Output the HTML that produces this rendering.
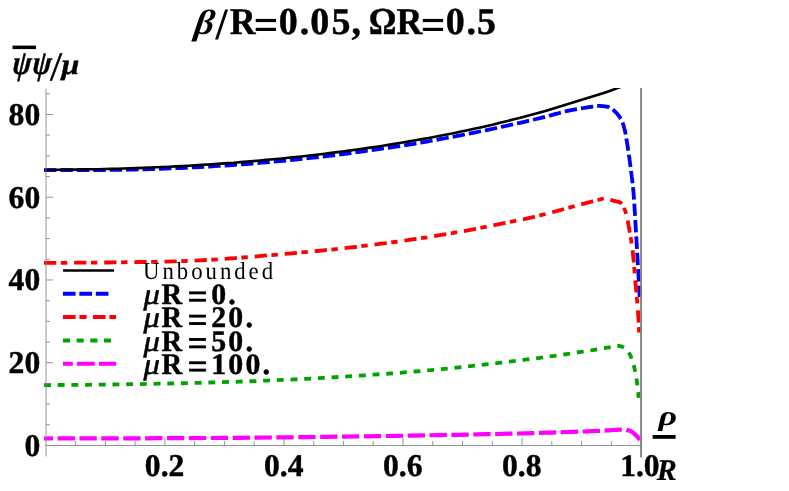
<!DOCTYPE html>
<html><head><meta charset="utf-8">
<style>
html,body{margin:0;padding:0;background:#fff;}
svg{display:block;will-change:transform;}
text{font-family:"Liberation Serif",serif;font-weight:bold;font-size:30px;fill:#000;text-rendering:geometricPrecision;stroke:#000;stroke-width:0.45px;stroke-linejoin:round;}
.it{font-style:italic;}
.crv{fill:none;stroke-width:4;stroke-linecap:butt;stroke-linejoin:round;}
</style></head><body>
<svg width="789" height="491" viewBox="0 0 789 491">
<rect width="789" height="491" fill="#fff"/>
<defs><clipPath id="cp"><rect x="40" y="88" width="603" height="370"/></clipPath></defs>
<g clip-path="url(#cp)">
<path class="crv" style="stroke-width:3.8" d="M44.0 170.2 L50.4 170.2 L56.8 170.2 L63.2 170.2 L69.7 170.2 L76.1 170.2 L82.6 170.2 L89.0 170.1 L95.3 170.1 L101.6 170.1 L107.9 170.0 L114.0 169.9 L120.0 169.8 L125.2 169.8 L130.4 169.6 L135.5 169.5 L140.5 169.4 L145.5 169.3 L150.4 169.1 L155.4 169.0 L160.3 168.8 L165.2 168.6 L170.1 168.4 L175.0 168.2 L180.0 168.0 L185.0 167.8 L189.9 167.5 L194.8 167.3 L199.7 167.1 L204.6 166.8 L209.5 166.5 L214.4 166.2 L219.4 165.9 L224.4 165.6 L229.5 165.3 L234.7 164.9 L240.0 164.5 L246.3 164.0 L252.7 163.5 L259.2 162.9 L265.8 162.4 L272.5 161.8 L279.3 161.1 L286.1 160.5 L292.9 159.8 L299.7 159.1 L306.5 158.4 L313.3 157.7 L320.0 156.9 L326.8 156.1 L333.7 155.3 L340.7 154.4 L347.7 153.5 L354.7 152.5 L361.7 151.6 L368.6 150.6 L375.4 149.7 L381.9 148.7 L388.3 147.8 L394.3 146.9 L400.0 146.1 L403.8 145.5 L407.4 144.9 L410.9 144.3 L414.2 143.8 L417.4 143.2 L420.6 142.7 L423.7 142.1 L426.9 141.6 L430.0 141.0 L433.2 140.4 L436.6 139.8 L440.0 139.2 L444.0 138.5 L448.0 137.7 L452.1 136.9 L456.3 136.2 L460.5 135.3 L464.7 134.5 L468.9 133.7 L473.1 132.9 L477.4 132.0 L481.6 131.1 L485.8 130.3 L490.0 129.4 L494.2 128.5 L498.5 127.6 L502.8 126.6 L507.2 125.7 L511.5 124.7 L515.8 123.7 L520.1 122.8 L524.3 121.8 L528.4 120.8 L532.4 119.9 L536.3 119.0 L540.0 118.1 L542.8 117.4 L545.5 116.7 L548.2 116.0 L550.8 115.3 L553.3 114.6 L555.8 113.9 L558.3 113.3 L560.7 112.6 L563.1 112.0 L565.4 111.4 L567.7 110.9 L570.0 110.4 L571.8 110.0 L573.7 109.7 L575.5 109.3 L577.3 109.0 L579.1 108.7 L580.9 108.4 L582.6 108.1 L584.2 107.9 L585.8 107.6 L587.3 107.4 L588.7 107.2 L590.0 107.0 L590.7 106.9 L591.4 106.8 L592.0 106.7 L592.6 106.6 L593.2 106.5 L593.8 106.4 L594.3 106.3 L594.8 106.2 L595.4 106.2 L595.9 106.1 L596.4 106.0 L597.0 106.0 L597.5 106.0 L598.0 105.9 L598.5 105.9 L599.0 105.9 L599.6 105.9 L600.1 105.9 L600.6 105.9 L601.0 106.0 L601.5 106.0 L602.0 106.0 L602.5 106.1 L603.0 106.1 L603.5 106.1 L603.9 106.2 L604.4 106.3 L604.8 106.3 L605.3 106.4 L605.7 106.5 L606.2 106.5 L606.6 106.6 L607.0 106.7 L607.5 106.8 L607.9 107.0 L608.3 107.1 L608.7 107.2 L609.1 107.4 L609.4 107.6 L609.8 107.7 L610.2 107.9 L610.5 108.1 L610.9 108.3 L611.2 108.5 L611.6 108.7 L611.9 108.9 L612.3 109.2 L612.6 109.4 L613.0 109.7 L613.3 109.9 L613.7 110.2 L614.0 110.5 L614.3 110.9 L614.7 111.2 L615.0 111.5 L615.3 111.8 L615.7 112.2 L616.0 112.5 L616.3 112.9 L616.6 113.2 L616.9 113.5 L617.2 113.9 L617.5 114.2 L617.8 114.6 L618.1 114.9 L618.4 115.3 L618.7 115.7 L618.9 116.0 L619.2 116.4 L619.5 116.8 L619.7 117.2 L620.0 117.6 L620.3 118.0 L620.5 118.5 L620.8 118.9 L621.0 119.4 L621.3 119.8 L621.5 120.3 L621.7 120.8 L622.0 121.3 L622.2 121.7 L622.4 122.3 L622.6 122.8 L622.8 123.3 L623.0 123.9 L623.3 124.6 L623.5 125.3 L623.7 126.0 L623.9 126.7 L624.1 127.5 L624.3 128.2 L624.5 129.0 L624.7 129.7 L624.9 130.5 L625.0 131.2 L625.2 132.0 L625.4 132.8 L625.6 133.7 L625.7 134.6 L625.9 135.4 L626.0 136.3 L626.2 137.2 L626.3 138.1 L626.4 139.0 L626.6 139.9 L626.7 140.8 L626.9 141.6 L627.0 142.5 L627.1 143.3 L627.3 144.1 L627.4 144.9 L627.5 145.7 L627.6 146.5 L627.8 147.2 L627.9 148.0 L628.0 148.8 L628.1 149.6 L628.3 150.4 L628.4 151.2 L628.5 152.0 L628.6 152.9 L628.8 153.8 L628.9 154.7 L629.0 155.6 L629.1 156.5 L629.3 157.4 L629.4 158.4 L629.5 159.3 L629.6 160.2 L629.8 161.1 L629.9 162.1 L630.0 163.0 L630.1 163.9 L630.3 164.8 L630.4 165.8 L630.5 166.7 L630.6 167.6 L630.7 168.5 L630.9 169.4 L631.0 170.3 L631.1 171.3 L631.2 172.3 L631.4 173.3 L631.5 174.3 L631.7 175.7 L631.8 177.0 L632.0 178.4 L632.2 179.8 L632.3 181.3 L632.5 182.8 L632.7 184.3 L632.9 185.9 L633.0 187.5 L633.2 189.1 L633.3 190.8 L633.5 192.6 L633.7 195.2 L633.9 198.0 L634.1 200.8 L634.3 203.8 L634.5 206.9 L634.7 210.1 L634.9 213.3 L635.1 216.5 L635.3 219.7 L635.4 222.8 L635.6 225.9 L635.8 228.9 L636.0 231.7 L636.1 234.5 L636.3 237.3 L636.5 240.0 L636.6 242.8 L636.8 245.5 L636.9 248.2 L637.1 251.0 L637.2 253.7 L637.4 256.4 L637.5 259.2 L637.7 262.0 L637.9 264.9 L638.0 267.8 L638.2 270.7 L638.4 273.6 L638.5 276.5 L638.7 279.4 L638.9 282.4 L639.0 285.3 L639.2 288.2 L639.4 291.2 L639.5 294.1 L639.7 297.0" stroke="#0000ff" stroke-dasharray="12.4 4.03"/>
<path class="crv" style="stroke-width:3.8" d="M44.0 262.9 L50.3 262.9 L56.6 262.8 L63.0 262.8 L69.3 262.7 L75.6 262.7 L81.9 262.7 L88.2 262.6 L94.5 262.6 L100.9 262.5 L107.2 262.5 L113.6 262.4 L120.0 262.3 L126.6 262.2 L133.2 262.1 L139.8 262.0 L146.4 261.9 L153.1 261.8 L159.7 261.7 L166.4 261.6 L173.1 261.4 L179.8 261.2 L186.5 261.0 L193.2 260.7 L200.0 260.4 L207.0 260.0 L214.1 259.6 L221.2 259.1 L228.3 258.6 L235.5 258.1 L242.6 257.5 L249.8 257.0 L256.9 256.4 L264.0 255.7 L271.1 255.1 L278.1 254.5 L285.0 253.9 L291.5 253.3 L298.0 252.7 L304.4 252.2 L310.7 251.6 L317.1 251.0 L323.4 250.3 L329.7 249.7 L336.0 249.1 L342.3 248.4 L348.7 247.7 L355.0 247.0 L361.4 246.2 L367.9 245.4 L374.5 244.6 L381.1 243.7 L387.7 242.9 L394.3 242.0 L400.9 241.1 L407.5 240.2 L414.1 239.2 L420.6 238.2 L427.1 237.3 L433.6 236.2 L440.0 235.2 L446.2 234.2 L452.5 233.1 L458.9 231.9 L465.3 230.8 L471.6 229.6 L477.9 228.4 L484.1 227.2 L490.1 226.0 L495.9 224.8 L501.4 223.7 L506.6 222.7 L511.4 221.7 L514.2 221.1 L516.9 220.6 L519.4 220.0 L521.8 219.5 L524.1 219.1 L526.3 218.6 L528.5 218.1 L530.7 217.6 L533.0 217.1 L535.2 216.5 L537.6 216.0 L540.0 215.4 L542.8 214.7 L545.8 213.9 L548.9 213.1 L552.0 212.3 L555.1 211.5 L558.2 210.6 L561.3 209.8 L564.3 208.9 L567.2 208.1 L570.0 207.4 L572.6 206.7 L575.0 206.0 L576.5 205.6 L577.9 205.2 L579.2 204.9 L580.5 204.5 L581.7 204.2 L582.9 203.9 L584.1 203.6 L585.2 203.3 L586.4 202.9 L587.6 202.6 L588.8 202.3 L590.0 202.0 L591.2 201.7 L592.4 201.4 L593.7 201.0 L594.9 200.7 L596.1 200.4 L597.3 200.1 L598.5 199.8 L599.7 199.5 L601.0 199.1 L602.2 198.8 L603.4 198.5 L604.6 198.2 L605.3 198.4 L606.0 198.6 L606.7 198.8 L607.4 199.0 L608.1 199.2 L608.8 199.4 L609.5 199.6 L610.2 199.8 L610.9 200.0 L611.6 200.2 L612.3 200.4 L613.0 200.6 L613.7 200.8 L614.4 200.9 L615.1 201.1 L615.7 201.2 L616.4 201.3 L617.1 201.5 L617.8 201.6 L618.5 201.8 L619.1 202.0 L619.7 202.3 L620.3 202.6 L620.8 203.0 L621.3 203.5 L621.8 204.1 L622.3 204.7 L622.7 205.3 L623.1 206.0 L623.5 206.8 L623.9 207.6 L624.2 208.4 L624.5 209.2 L624.9 210.1 L625.2 210.9 L625.5 211.8 L625.9 213.0 L626.3 214.3 L626.6 215.6 L627.0 216.9 L627.3 218.3 L627.6 219.8 L627.8 221.2 L628.1 222.7 L628.4 224.3 L628.6 225.8 L628.9 227.3 L629.2 228.9 L629.5 230.8 L629.9 232.7 L630.2 234.7 L630.5 236.7 L630.9 238.7 L631.2 240.8 L631.5 242.9 L631.8 245.0 L632.1 247.1 L632.4 249.2 L632.7 251.2 L632.9 253.3 L633.1 255.3 L633.3 257.4 L633.5 259.5 L633.7 261.6 L633.9 263.6 L634.1 265.7 L634.2 267.8 L634.4 269.8 L634.5 271.9 L634.7 273.9 L634.8 275.9 L635.0 277.8 L635.2 279.5 L635.3 281.1 L635.5 282.8 L635.6 284.4 L635.8 286.0 L635.9 287.6 L636.1 289.2 L636.2 290.7 L636.4 292.3 L636.5 293.9 L636.7 295.4 L636.8 297.0 L636.9 298.5 L637.1 300.0 L637.2 301.5 L637.3 303.1 L637.4 304.6 L637.5 306.1 L637.7 307.5 L637.8 309.0 L637.9 310.5 L638.0 312.0 L638.1 313.5 L638.2 315.0 L638.3 316.5 L638.4 317.9 L638.5 319.4 L638.6 320.9 L638.6 322.3 L638.7 323.8 L638.8 325.2 L638.9 326.7 L639.0 328.1 L639.0 329.6 L639.1 331.0 L639.2 332.5" stroke="#ff0000" stroke-dasharray="12.3 4.5 6.45 6.87"/>
<path class="crv" style="stroke-width:3.8" d="M44.0 385.1 L50.3 385.0 L56.5 385.0 L62.6 385.0 L68.7 384.9 L74.8 384.9 L80.9 384.8 L87.1 384.8 L93.4 384.7 L99.8 384.7 L106.3 384.6 L113.1 384.5 L120.0 384.4 L129.1 384.2 L138.5 384.1 L148.3 383.9 L158.4 383.7 L168.6 383.5 L179.0 383.3 L189.4 383.0 L199.8 382.8 L210.1 382.5 L220.3 382.2 L230.3 381.9 L240.0 381.6 L248.7 381.3 L257.2 381.0 L265.6 380.6 L274.0 380.3 L282.3 379.9 L290.6 379.6 L298.8 379.2 L307.0 378.8 L315.2 378.3 L323.4 377.9 L331.7 377.4 L340.0 376.9 L348.3 376.4 L356.7 375.8 L365.0 375.3 L373.3 374.7 L381.7 374.1 L390.0 373.5 L398.4 372.9 L406.7 372.2 L415.0 371.5 L423.3 370.8 L431.7 370.1 L440.0 369.3 L448.4 368.5 L457.1 367.6 L465.8 366.7 L474.6 365.7 L483.4 364.7 L492.2 363.7 L500.8 362.7 L509.2 361.7 L517.4 360.7 L525.3 359.7 L532.9 358.7 L540.0 357.8 L544.8 357.2 L549.6 356.5 L554.2 355.9 L558.7 355.2 L563.1 354.6 L567.3 354.0 L571.5 353.3 L575.5 352.7 L579.3 352.1 L583.0 351.6 L586.6 351.0 L590.0 350.5 L592.2 350.2 L594.3 349.8 L596.4 349.5 L598.4 349.1 L600.4 348.8 L602.3 348.5 L604.1 348.2 L605.9 347.9 L607.5 347.6 L609.1 347.3 L610.6 347.1 L612.0 346.9 L612.8 346.8 L613.5 346.7 L614.2 346.5 L614.8 346.4 L615.5 346.3 L616.1 346.2 L616.7 346.1 L617.2 346.0 L617.8 346.0 L618.3 345.9 L618.9 346.0 L619.4 346.0 L619.8 346.1 L620.2 346.1 L620.6 346.2 L621.0 346.3 L621.4 346.5 L621.8 346.6 L622.2 346.8 L622.5 346.9 L622.9 347.1 L623.3 347.3 L623.6 347.6 L624.0 347.8 L624.5 348.1 L624.9 348.5 L625.4 348.8 L625.8 349.2 L626.3 349.7 L626.7 350.1 L627.2 350.6 L627.6 351.1 L628.0 351.6 L628.4 352.1 L628.8 352.7 L629.2 353.3 L629.7 354.2 L630.2 355.1 L630.7 356.2 L631.1 357.2 L631.5 358.4 L631.9 359.5 L632.3 360.7 L632.7 361.9 L633.1 363.2 L633.4 364.4 L633.8 365.6 L634.1 366.8 L634.4 368.1 L634.7 369.3 L635.0 370.6 L635.3 372.0 L635.5 373.3 L635.8 374.6 L636.0 375.9 L636.2 377.3 L636.4 378.6 L636.6 380.0 L636.8 381.3 L637.0 382.6 L637.2 383.9 L637.3 385.2 L637.5 386.4 L637.7 387.7 L637.8 389.0 L637.9 390.3 L638.0 391.5 L638.2 392.8 L638.3 394.1 L638.4 395.4 L638.6 396.6 L638.7 397.9" stroke="#00a300" stroke-dasharray="6.9 6.8"/>
<path class="crv" style="stroke-width:4.2" d="M44.0 438.5 L60.3 438.4 L76.6 438.4 L93.0 438.4 L109.3 438.3 L125.6 438.3 L141.9 438.3 L158.2 438.2 L174.5 438.2 L190.9 438.1 L207.2 438.0 L223.6 437.9 L240.0 437.8 L256.8 437.6 L274.0 437.5 L291.5 437.3 L309.1 437.1 L326.7 436.8 L344.2 436.6 L361.4 436.4 L378.3 436.1 L394.8 435.9 L410.6 435.6 L425.7 435.3 L440.0 435.1 L449.6 434.9 L458.9 434.8 L468.0 434.6 L476.8 434.4 L485.4 434.2 L493.7 434.1 L501.9 433.9 L509.8 433.7 L517.6 433.5 L525.2 433.3 L532.7 433.1 L540.0 432.9 L545.6 432.7 L551.2 432.6 L556.7 432.4 L562.2 432.2 L567.5 432.0 L572.7 431.8 L577.8 431.7 L582.7 431.5 L587.3 431.3 L591.8 431.1 L596.0 431.0 L600.0 430.8 L602.3 430.7 L604.7 430.6 L606.9 430.4 L609.1 430.3 L611.2 430.2 L613.2 430.0 L615.2 429.9 L617.0 429.8 L618.7 429.7 L620.3 429.7 L621.7 429.7 L623.0 429.7 L623.5 429.7 L624.1 429.7 L624.5 429.8 L625.0 429.8 L625.4 429.9 L625.8 429.9 L626.2 429.9 L626.5 430.0 L626.9 430.1 L627.3 430.1 L627.6 430.2 L628.0 430.3 L628.3 430.4 L628.6 430.5 L628.9 430.5 L629.2 430.6 L629.5 430.7 L629.8 430.8 L630.1 430.9 L630.4 431.0 L630.7 431.1 L631.0 431.3 L631.3 431.4 L631.6 431.6 L632.0 431.8 L632.4 432.1 L632.8 432.4 L633.3 432.8 L633.7 433.1 L634.1 433.5 L634.5 433.9 L634.9 434.3 L635.3 434.7 L635.7 435.0 L636.1 435.4 L636.5 435.8 L636.8 436.2 L637.2 436.5 L637.5 436.9 L637.8 437.2 L638.1 437.6 L638.4 438.0 L638.7 438.3 L639.0 438.7 L639.3 439.1 L639.6 439.5 L639.9 439.8 L640.2 440.2" stroke="#ff00ff" stroke-dasharray="17.35 4.53" stroke-dashoffset="8.3"/>
<path d="M44.5 169.7 L52.3 169.7 L58.8 169.7 L65.3 169.6 L71.8 169.6 L78.3 169.5 L84.8 169.4 L91.3 169.3 L97.8 169.2 L104.2 169.0 L110.7 168.9 L117.2 168.7 L123.7 168.5 L130.2 168.3 L136.7 168.1 L143.2 167.9 L149.7 167.6 L156.1 167.3 L162.6 167.0 L169.1 166.7 L175.6 166.4 L182.1 166.1 L188.6 165.7 L195.1 165.3 L201.6 164.9 L208.0 164.5 L214.5 164.1 L221.0 163.6 L227.5 163.1 L234.0 162.7 L240.5 162.1 L247.0 161.6 L253.5 161.1 L259.9 160.5 L266.4 159.9 L272.9 159.3 L279.4 158.7 L285.9 158.0 L292.4 157.4 L298.9 156.7 L305.4 156.0 L311.8 155.2 L318.3 154.5 L324.8 153.7 L331.3 152.9 L337.8 152.1 L344.3 151.2 L350.8 150.4 L357.3 149.5 L363.7 148.6 L370.2 147.6 L376.7 146.7 L383.2 145.7 L389.7 144.6 L396.2 143.6 L402.7 142.5 L409.2 141.4 L415.6 140.3 L422.1 139.1 L428.6 138.0 L435.1 136.7 L441.6 135.5 L448.1 134.2 L454.6 132.9 L461.1 131.6 L467.5 130.2 L474.0 128.8 L480.5 127.4 L487.0 125.9 L493.5 124.4 L500.0 122.8 L506.5 121.2 L513.0 119.6 L519.4 117.9 L525.9 116.2 L532.4 114.5 L538.9 112.7 L545.4 110.9 L551.9 109.0 L558.4 107.1 L564.9 105.1 L571.3 103.1 L577.8 101.1 L584.3 99.1 L590.8 97.1 L597.3 95.0 L603.8 92.9 L610.3 90.7 L616.8 88.4 L623.2 85.9" fill="none" stroke="#000" stroke-width="2.6"/>
</g>
<g stroke="#808080" fill="none">
<line x1="46.0" y1="88.9" x2="46.0" y2="456.5" stroke-width="0.85"/>
<line x1="45.5" y1="445.5" x2="641" y2="445.5" stroke-width="0.85"/>
<line x1="641.1" y1="88" x2="641.1" y2="457.6" stroke-width="1.9"/>
</g>
<g stroke="#808080" stroke-width="0.85" fill="none">
<line x1="75.61" y1="445.50" x2="75.61" y2="441.00"/>
<line x1="105.38" y1="445.50" x2="105.38" y2="441.00"/>
<line x1="135.14" y1="445.50" x2="135.14" y2="441.00"/>
<line x1="164.90" y1="445.50" x2="164.90" y2="438.00"/>
<line x1="194.66" y1="445.50" x2="194.66" y2="441.00"/>
<line x1="224.43" y1="445.50" x2="224.43" y2="441.00"/>
<line x1="254.19" y1="445.50" x2="254.19" y2="441.00"/>
<line x1="283.95" y1="445.50" x2="283.95" y2="438.00"/>
<line x1="313.71" y1="445.50" x2="313.71" y2="441.00"/>
<line x1="343.48" y1="445.50" x2="343.48" y2="441.00"/>
<line x1="373.24" y1="445.50" x2="373.24" y2="441.00"/>
<line x1="403.00" y1="445.50" x2="403.00" y2="438.00"/>
<line x1="432.76" y1="445.50" x2="432.76" y2="441.00"/>
<line x1="462.53" y1="445.50" x2="462.53" y2="441.00"/>
<line x1="492.29" y1="445.50" x2="492.29" y2="441.00"/>
<line x1="522.05" y1="445.50" x2="522.05" y2="438.00"/>
<line x1="551.81" y1="445.50" x2="551.81" y2="441.00"/>
<line x1="581.58" y1="445.50" x2="581.58" y2="441.00"/>
<line x1="611.34" y1="445.50" x2="611.34" y2="441.00"/>
<line x1="641.10" y1="445.50" x2="641.10" y2="438.00"/>
<line x1="46.00" y1="424.81" x2="50.00" y2="424.81"/>
<line x1="46.00" y1="404.12" x2="50.00" y2="404.12"/>
<line x1="46.00" y1="383.43" x2="50.00" y2="383.43"/>
<line x1="46.00" y1="362.74" x2="53.00" y2="362.74"/>
<line x1="46.00" y1="342.05" x2="50.00" y2="342.05"/>
<line x1="46.00" y1="321.36" x2="50.00" y2="321.36"/>
<line x1="46.00" y1="300.67" x2="50.00" y2="300.67"/>
<line x1="46.00" y1="279.98" x2="53.00" y2="279.98"/>
<line x1="46.00" y1="259.29" x2="50.00" y2="259.29"/>
<line x1="46.00" y1="238.60" x2="50.00" y2="238.60"/>
<line x1="46.00" y1="217.91" x2="50.00" y2="217.91"/>
<line x1="46.00" y1="197.22" x2="53.00" y2="197.22"/>
<line x1="46.00" y1="176.53" x2="50.00" y2="176.53"/>
<line x1="46.00" y1="155.84" x2="50.00" y2="155.84"/>
<line x1="46.00" y1="135.15" x2="50.00" y2="135.15"/>
<line x1="46.00" y1="114.46" x2="53.00" y2="114.46"/>
<line x1="46.00" y1="93.77" x2="50.00" y2="93.77"/>
</g>
<g>
<text x="164.6" y="476.3" text-anchor="middle" style="font-size:31.6px">0.2</text>
<text x="283.7" y="476.3" text-anchor="middle" style="font-size:31.6px">0.4</text>
<text x="402.7" y="476.3" text-anchor="middle" style="font-size:31.6px">0.6</text>
<text x="521.8" y="476.3" text-anchor="middle" style="font-size:31.6px">0.8</text>
<text x="639.9" y="476.3" text-anchor="middle" style="font-size:31.6px">1.0</text>
<text x="40.2" y="455.8" text-anchor="end" style="font-size:31.6px">0</text>
<text x="40.2" y="373.0" text-anchor="end" style="font-size:31.6px">20</text>
<text x="40.2" y="290.3" text-anchor="end" style="font-size:31.6px">40</text>
<text x="40.2" y="207.5" text-anchor="end" style="font-size:31.6px">60</text>
<text x="40.2" y="124.8" text-anchor="end" style="font-size:31.6px">80</text>

</g>
<!-- title -->
<g style="font-size:38px">
<text transform="translate(193.6 34) skewX(-8) scale(1 0.92)" class="it" style="font-size:38px;stroke:none">β</text>
<text transform="translate(215.6 39.3) scale(1.15 1.18)" style="font-size:38px;stroke:none">/</text>
<text transform="translate(229.8 34) scale(0.94 1)" style="font-size:38px">R</text>
<rect x="255.7" y="18.9" width="20.3" height="3.2"/><rect x="255.7" y="27.8" width="20.3" height="3.2"/>
<text y="34" style="font-size:38px"><tspan x="278.8">0</tspan><tspan x="299.7">.</tspan><tspan x="310.2">0</tspan><tspan x="331.5">5</tspan><tspan x="351.5">,</tspan></text>
<text transform="translate(368.7 34) scale(0.91 1)" style="font-size:38px">Ω</text>
<text transform="translate(396.6 34) scale(0.94 1)" style="font-size:38px">R</text>
<rect x="422.8" y="18.9" width="20.3" height="3.2"/><rect x="422.8" y="27.8" width="20.3" height="3.2"/>
<text y="34" style="font-size:38px"><tspan x="445.7">0</tspan><tspan x="466.6">.</tspan><tspan x="477">5</tspan></text>
</g>
<!-- y label -->
<g class="it" style="font-size:32px;stroke:none">
<text transform="translate(11.9 74.4) skewX(-5) scale(0.88 1.06)" style="font-size:32px">ψ</text>
<text transform="translate(31.9 74.4) skewX(-5) scale(0.88 1.06)" style="font-size:32px">ψ</text>
<text transform="translate(51.8 80.2) scale(0.92 1.27)" style="font-size:32px">/</text>
<text transform="translate(61.5 74.3) scale(1 0.9)" style="font-size:32px">μ</text>
</g>
<rect x="12.5" y="45.6" width="23.5" height="3.5" fill="#000"/>
<!-- x label -->
<text transform="translate(658.6 424.8) scale(1.2 0.93)" class="it" style="stroke:none">ρ</text>
<rect x="652.6" y="435" width="23" height="3.8" fill="#000"/>
<text x="656.8" y="480" class="it" style="stroke-width:0.2px">R</text>
<!-- legend -->
<line x1="63.1" y1="270.5" x2="114.1" y2="270.5" stroke="#000" stroke-width="2.4"/>
<line class="crv" x1="62.9" y1="293.7" x2="108.5" y2="293.7" stroke="#0000ff" stroke-dasharray="12.65 3.8"/>
<line class="crv" x1="62.9" y1="317.0" x2="116.1" y2="317.0" stroke="#ff0000" stroke-dasharray="12.7 3.8 7.2 6.3"/>
<line class="crv" x1="62.9" y1="340.4" x2="111.2" y2="340.4" stroke="#00a300" stroke-dasharray="7.1 6.6"/>
<line class="crv" x1="62.9" y1="363.7" x2="116.1" y2="363.7" stroke="#ff00ff" stroke-dasharray="17.8 4.1" stroke-dashoffset="7.9"/>
<text transform="translate(143.1 279.4) scale(1 1.07)" style="font-weight:normal;stroke:none;font-size:22.8px;letter-spacing:2.95px">Unbounded</text>
<text transform="translate(143.4 304.1) scale(1.1 1)" class="it" style="font-size:29.8px;font-weight:normal;stroke-width:0.5px">μ</text><text transform="translate(161.4 304.1) scale(0.96 1)" style="font-size:29.8px">R</text><text x="211.2" y="304.1" style="font-size:29.8px;letter-spacing:2.2px">0.</text>
<rect x="189.1" y="291.4" width="16.8" height="2.9"/><rect x="189.1" y="298.8" width="16.8" height="2.9"/>
<text transform="translate(143.4 327.4) scale(1.1 1)" class="it" style="font-size:29.8px;font-weight:normal;stroke-width:0.5px">μ</text><text transform="translate(161.4 327.4) scale(0.96 1)" style="font-size:29.8px">R</text><text x="211.2" y="327.4" style="font-size:29.8px;letter-spacing:2.2px">20.</text>
<rect x="189.1" y="314.7" width="16.8" height="2.9"/><rect x="189.1" y="322.1" width="16.8" height="2.9"/>
<text transform="translate(143.4 350.7) scale(1.1 1)" class="it" style="font-size:29.8px;font-weight:normal;stroke-width:0.5px">μ</text><text transform="translate(161.4 350.7) scale(0.96 1)" style="font-size:29.8px">R</text><text x="211.2" y="350.7" style="font-size:29.8px;letter-spacing:2.2px">50.</text>
<rect x="189.1" y="338.0" width="16.8" height="2.9"/><rect x="189.1" y="345.4" width="16.8" height="2.9"/>
<text transform="translate(143.4 374.0) scale(1.1 1)" class="it" style="font-size:29.8px;font-weight:normal;stroke-width:0.5px">μ</text><text transform="translate(161.4 374.0) scale(0.96 1)" style="font-size:29.8px">R</text><text x="211.2" y="374.0" style="font-size:29.8px;letter-spacing:2.2px">100.</text>
<rect x="189.1" y="361.3" width="16.8" height="2.9"/><rect x="189.1" y="368.7" width="16.8" height="2.9"/>
</svg></body></html>
